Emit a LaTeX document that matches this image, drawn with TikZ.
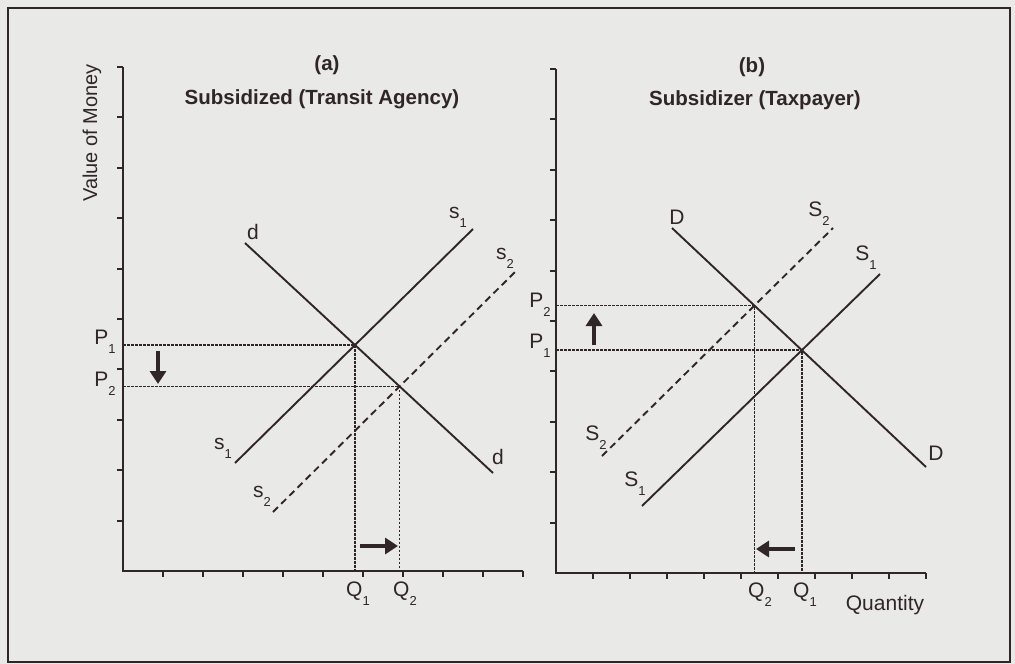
\documentclass[tikz,border=0pt]{standalone}
\usepackage{fontspec}
\setmainfont{Liberation Sans}
\usetikzlibrary{arrows.meta,positioning}
\definecolor{ink}{RGB}{48,38,38}
\definecolor{paper}{RGB}{233,233,231}
\newcommand{\lowsub}[1]{\raisebox{-0.42em}{\fontsize{13}{14}\selectfont #1}}

\begin{document}
\begin{tikzpicture}[x=1pt,y=-1pt,
    every node/.style={font=\fontsize{21}{23}\selectfont, text=ink, inner sep=1pt},
    heading/.style={font=\fontsize{20.5}{23}\selectfont\bfseries},
    curve/.style={ink, line width=1.9pt},
    shifted/.style={curve, dash pattern=on 7pt off 4.5pt},
    guide/.style={ink, dash pattern=on 2.5pt off 1.5pt, line width=1.7pt},
    axis/.style={ink, line width=1.9pt},
    move/.style={-{Triangle[length=13pt,width=16pt]}, ink, line width=4pt}]
    \useasboundingbox (0,0) rectangle (1015,664);
    \fill[paper] (0,0) rectangle (1015,664);
    \draw[ink, line width=2.8pt] (8,8) rectangle (1010,662);

    % (a) subsidized
    \coordinate (Oa) at (123,571);
    \draw[axis] (123,67) -- (Oa) -- (523,571);
    \foreach \k in {1,...,10} {
        \draw[axis] (123,571-50.4*\k) -- ++(-6,0);
        \draw[axis] (123+40*\k,571) -- ++(0,6);
    }
    \node[heading] (atag) at (327,65) {(a)};
    \node[heading] (atitle) at (322,99) {Subsidized (Transit Agency)};
    \node[rotate=90, font=\fontsize{20}{22}\selectfont] (ylab) at (92,133) {Value of Money};

    \coordinate (adTop) at (245,243);   \coordinate (adBot) at (493,473);
    \coordinate (asoTop) at (473,229);  \coordinate (asoBot) at (235,463);
    \coordinate (astTop) at (515,272);  \coordinate (astBot) at (273,512);
    \draw[curve] (adTop) -- (adBot);
    \draw[curve] (asoBot) -- (asoTop);
    \draw[shifted] (astBot) -- (astTop);
    \coordinate (aEo) at (intersection of adTop--adBot and asoBot--asoTop);
    \coordinate (aEt) at (intersection of adTop--adBot and astBot--astTop);
    \draw[guide] (aEo -| Oa) -- (aEo) -- (aEo |- Oa);
    \draw[guide] (aEt -| Oa) -- (aEt) -- (aEt |- Oa);

    \node (ad1) at (253,232) {d};
    \node (ad2) at (498,457) {d};
    \node (aso1) at (458,217) {s\lowsub{1}};
    \node (aso2) at (223,448) {s\lowsub{1}};
    \node (ast1) at (505,258) {s\lowsub{2}};
    \node (ast2) at (262,496) {s\lowsub{2}};
    \node (aP1) at (105,342) {P\lowsub{1}};
    \node (aP2) at (105,384) {P\lowsub{2}};
    \node (aQ1) at (358,594) {Q\lowsub{1}};
    \node (aQ2) at (405,594) {Q\lowsub{2}};

    \coordinate (aup) at (158,351);    \coordinate (adown) at (158,384);
    \coordinate (aleft) at (360,546);  \coordinate (aright) at (398,546);
    \draw[move] (aup) -- (adown);
    \draw[move] (aleft) -- (aright);

    % (b) subsidizer
    \coordinate (Ob) at (556,573);
    \draw[axis] (556,69) -- (Ob) -- (926,573);
    \foreach \k in {1,...,10} {
        \draw[axis] (556,573-50.4*\k) -- ++(-6,0);
        \draw[axis] (556+37*\k,573) -- ++(0,6);
    }
    \node[heading] (btag) at (752,67) {(b)};
    \node[heading] (btitle) at (755,100) {Subsidizer (Taxpayer)};

    \coordinate (bdTop) at (672,228);   \coordinate (bdBot) at (926,467);
    \coordinate (bsoTop) at (880,274);  \coordinate (bsoBot) at (642,506);
    \coordinate (bstTop) at (833,228);  \coordinate (bstBot) at (602,456);
    \draw[curve] (bdTop) -- (bdBot);
    \draw[curve] (bsoBot) -- (bsoTop);
    \draw[shifted] (bstBot) -- (bstTop);
    \coordinate (bEo) at (intersection of bdTop--bdBot and bsoBot--bsoTop);
    \coordinate (bEt) at (intersection of bdTop--bdBot and bstBot--bstTop);
    \draw[guide] (bEo -| Ob) -- (bEo) -- (bEo |- Ob);
    \draw[guide] (bEt -| Ob) -- (bEt) -- (bEt |- Ob);

    \node (bD1) at (677,217) {D};
    \node (bD2) at (936,453) {D};
    \node (bso1) at (866,258) {S\lowsub{1}};
    \node (bso2) at (635,484) {S\lowsub{1}};
    \node (bst1) at (819,214) {S\lowsub{2}};
    \node (bst2) at (596,438) {S\lowsub{2}};
    \node (bP2) at (540,305) {P\lowsub{2}};
    \node (bP1) at (540,346) {P\lowsub{1}};
    \node (bQ2) at (760,595) {Q\lowsub{2}};
    \node (bQ1) at (805,595) {Q\lowsub{1}};
    \node (bqty) at (885,605) {Quantity};

    \coordinate (blow) at (594,345);   \coordinate (bhigh) at (594,313);
    \coordinate (bfrom) at (795,549);  \coordinate (bto) at (756,549);
    \draw[move] (blow) -- (bhigh);
    \draw[move] (bfrom) -- (bto);
\end{tikzpicture}
\end{document}
